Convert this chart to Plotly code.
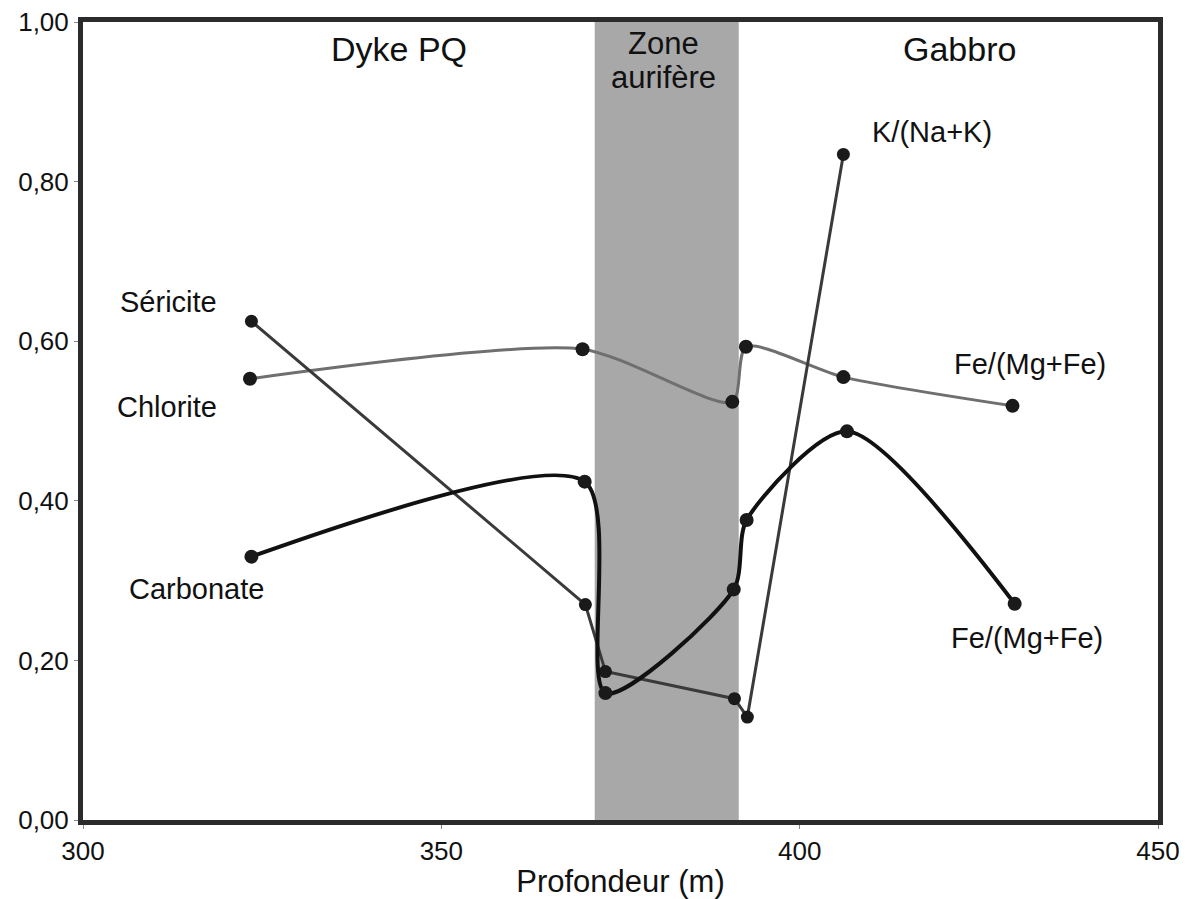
import plotly.graph_objects as go

# Profondeur (m) des échantillons et rapports mesurés
sericite_x = [323.5, 370.1, 372.9, 390.9, 392.7, 406.1]
sericite_y = [0.625, 0.270, 0.186, 0.152, 0.129, 0.834]

chlorite_x = [323.3, 369.7, 390.6, 392.5, 406.1, 429.7]
chlorite_y = [0.553, 0.590, 0.524, 0.593, 0.555, 0.519]

carbonate_x = [323.5, 370.0, 372.9, 390.8, 392.6, 406.6, 430.0]
carbonate_y = [0.330, 0.424, 0.159, 0.289, 0.376, 0.487, 0.271]

zone_start, zone_end = 371.4, 391.5

x_ticks = [300, 350, 400, 450]
y_ticks = [0.0, 0.2, 0.4, 0.6, 0.8, 1.0]
y_tick_text = ["0,00", "0,20", "0,40", "0,60", "0,80", "1,00"]

FONT = "Liberation Sans, Arial, sans-serif"
DOT = dict(size=14, color="#1a1a1a")

fig = go.Figure()

fig.add_trace(go.Scatter(
    x=chlorite_x, y=chlorite_y, mode="lines+markers", name="Chlorite",
    line=dict(color="#6f6f6f", width=3, shape="spline", smoothing=0.7),
    marker=DOT,
))
fig.add_trace(go.Scatter(
    x=sericite_x, y=sericite_y, mode="lines+markers", name="Séricite",
    line=dict(color="#3a3a3a", width=3),
    marker=dict(size=13, color="#1a1a1a"),
))
fig.add_trace(go.Scatter(
    x=carbonate_x, y=carbonate_y, mode="lines+markers", name="Carbonate",
    line=dict(color="#111111", width=4, shape="spline", smoothing=0.75),
    marker=DOT,
))

# zone aurifère
fig.add_shape(type="rect", xref="x", yref="y",
              x0=zone_start, x1=zone_end, y0=0, y1=1,
              fillcolor="#a8a8a8", line=dict(width=0), layer="below")

labels = [
    ("Dyke PQ", 344.1, 0.966, 34),
    ("Zone", 381.0, 0.973, 31),
    ("aurifère", 381.0, 0.930, 31),
    ("Gabbro", 422.3, 0.966, 34),
    ("K/(Na+K)", 418.4, 0.862, 29),
    ("Séricite", 311.9, 0.649, 29),
    ("Chlorite", 311.7, 0.518, 29),
    ("Carbonate", 315.9, 0.289, 29),
    ("Fe/(Mg+Fe)", 432.1, 0.571, 29),
    ("Fe/(Mg+Fe)", 431.7, 0.228, 29),
]
for text, x, y, size in labels:
    fig.add_annotation(x=x, y=y, xref="x", yref="y", text=text,
                       showarrow=False, xanchor="center", yanchor="middle",
                       font=dict(family=FONT, size=size, color="#111111"))

axis_common = dict(
    showline=True, mirror=True, linewidth=5, linecolor="#2b2b2b",
    showgrid=False, zeroline=False, automargin=False,
    ticks="outside", ticklen=4, tickwidth=1, tickcolor="#888888",
    tickfont=dict(family=FONT, size=26, color="#111111"),
)

fig.update_xaxes(range=[300, 450], tickvals=x_ticks,
                 title=dict(text="Profondeur (m)", standoff=12,
                            font=dict(family=FONT, size=31, color="#111111")),
                 **axis_common)
fig.update_yaxes(range=[0, 1], tickvals=y_ticks, ticktext=y_tick_text,
                 **axis_common)

fig.update_layout(
    width=1195, height=899,
    margin=dict(l=83, r=37, t=22, b=79),
    paper_bgcolor="white", plot_bgcolor="white",
    showlegend=False,
    font=dict(family=FONT),
)

fig.write_html("out.html")
